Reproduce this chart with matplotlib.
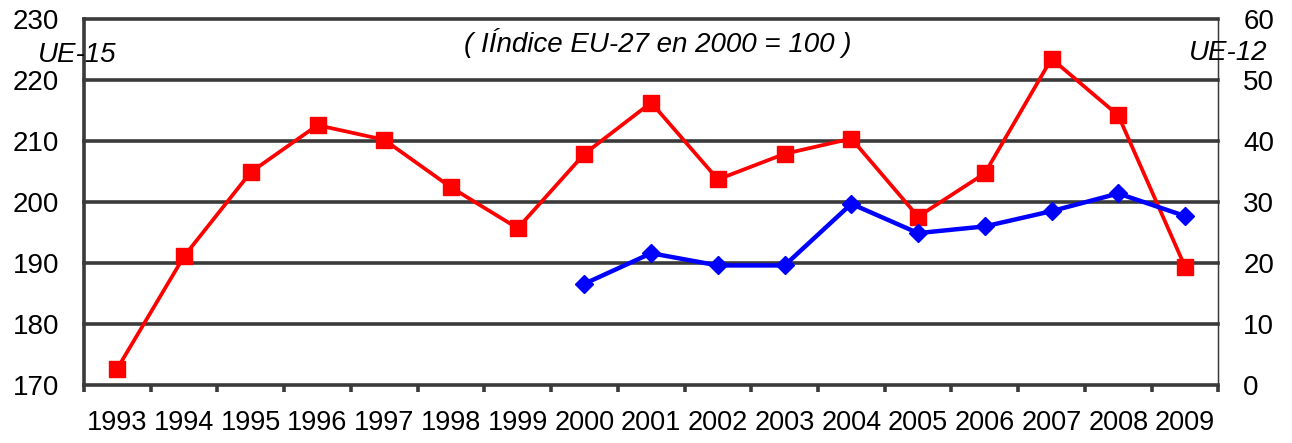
import numpy as np
import matplotlib
matplotlib.use('Agg')
import matplotlib.pyplot as plt
from matplotlib.ticker import FixedLocator, NullFormatter

plt.rcParams['font.family'] = ['Liberation Sans', 'DejaVu Sans']

# data
years = ['1993', '1994', '1995', '1996', '1997', '1998', '1999', '2000', '2001',
         '2002', '2003', '2004', '2005', '2006', '2007', '2008', '2009']
ue15 = [172.7, 191.1, 204.9, 212.6, 210.2, 202.4, 195.7, 207.9, 216.3,
        203.7, 207.9, 210.4, 197.6, 204.7, 223.5, 214.2, 189.4]
ue12_years = ['2000', '2001', '2002', '2003', '2004', '2005', '2006', '2007', '2008', '2009']
ue12 = [16.6, 21.6, 19.6, 19.6, 29.7, 24.9, 26.0, 28.5, 31.4, 27.7]

x = np.arange(len(years))
x12 = np.array([years.index(y) for y in ue12_years])

fig = plt.figure(figsize=(12.92, 4.43), dpi=100)
ax = fig.add_axes([0.065, 0.131, 0.878, 0.826])
ax2 = ax.twinx()

grid_col = '#3a3a3a'
for v in range(180, 231, 10):
    ax.axhline(v, color=grid_col, lw=2.6, zorder=1, clip_on=False)

ax.plot(x, ue15, color='#ff0000', lw=2.7, marker='s', markersize=11,
        markeredgecolor='#ff0000', zorder=3)
ax2.plot(x12, ue12, color='#0000ff', lw=3.2, marker='D', markersize=9,
         markeredgecolor='#0000ff', zorder=3)

ax.set_xlim(-0.5, len(years) - 0.5)
ax.set_ylim(170, 230)
ax2.set_ylim(0, 60)
ax.set_yticks(range(170, 231, 10))
ax2.set_yticks(range(0, 61, 10))

ax.set_xticks(x)
ax.set_xticklabels(years)
ax.xaxis.set_minor_locator(FixedLocator(np.arange(-0.5, len(years), 1)))
ax.xaxis.set_minor_formatter(NullFormatter())
ax.tick_params(axis='x', which='major', length=0, labelsize=19.5, pad=18)
ax.tick_params(axis='x', which='minor', length=5, width=2.6, color=grid_col, direction='out')
ax.tick_params(axis='y', length=0, labelsize=20, pad=18)
ax2.tick_params(axis='y', length=0, labelsize=20, pad=18)

for a in (ax, ax2):
    a.spines['top'].set_visible(False)
ax.spines['left'].set_linewidth(2.6)
ax.spines['left'].set_color(grid_col)
ax.spines['bottom'].set_linewidth(2.6)
ax.spines['bottom'].set_color(grid_col)
ax2.spines['left'].set_visible(False)
ax2.spines['bottom'].set_visible(False)
ax2.spines['right'].set_linewidth(1.0)
ax2.spines['right'].set_color(grid_col)
ax.set_zorder(ax2.get_zorder() - 1)
ax2.patch.set_visible(False)
ax.patch.set_visible(False)

fig.text(0.029, 0.876, 'UE-15', fontsize=20, style='italic', ha='left', va='center')
fig.text(0.920, 0.880, 'UE-12', fontsize=20, style='italic', ha='left', va='center')
fig.text(0.509, 0.903, '( IÍndice EU-27 en 2000 = 100 )', fontsize=20, style='italic',
         ha='center', va='center')

fig.savefig('out.png', dpi=100)
